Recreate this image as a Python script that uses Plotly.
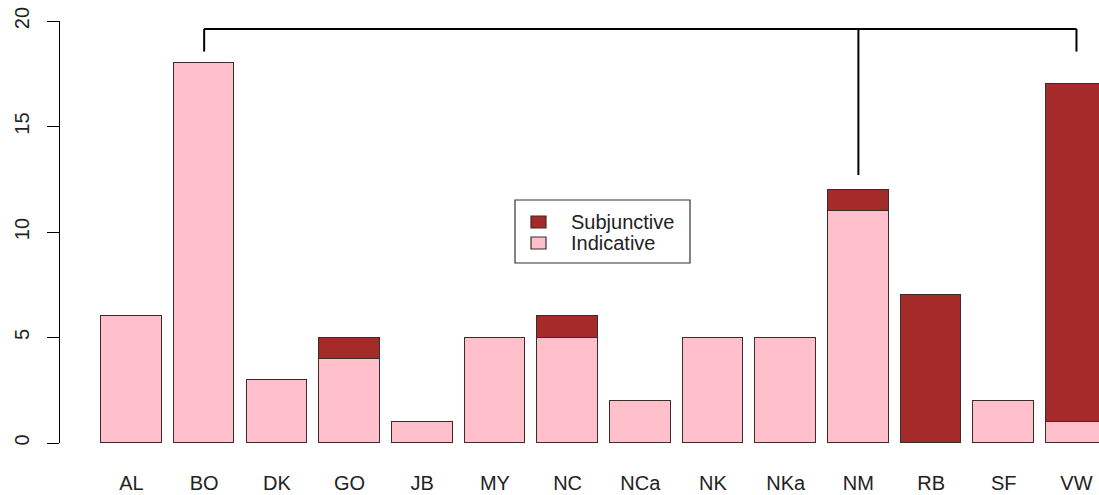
import plotly.graph_objects as go

# counts per speaker
speakers = ['AL', 'BO', 'DK', 'GO', 'JB', 'MY', 'NC', 'NCa', 'NK', 'NKa', 'NM', 'RB', 'SF', 'VW']
indicative = [6, 18, 3, 4, 1, 5, 5, 2, 5, 5, 11, 0, 2, 1]
subjunctive = [0, 0, 0, 1, 0, 0, 1, 0, 0, 0, 1, 7, 0, 16]
y_ticks = [0, 5, 10, 15, 20]

# bracket joining BO and VW, with a stem down to NM
bracket_ends = ['BO', 'VW']
bracket_stem = 'NM'
bracket_top = 19.62
bracket_foot = 18.55
stem_foot = 12.7

PINK = '#FFC0CB'
BROWN = '#A52A2A'
EDGE = '#3b2b2b'
FONT = 'Liberation Sans, Arial, sans-serif'

xpos = list(range(len(speakers)))
bar_w = 1 / 1.2

fig = go.Figure()
fig.add_trace(go.Bar(x=xpos, y=indicative, name='Indicative', width=bar_w,
                     marker=dict(color=PINK, line=dict(color=EDGE, width=1.3)),
                     showlegend=False))
fig.add_trace(go.Bar(x=xpos, y=subjunctive, name='Subjunctive', width=bar_w,
                     marker=dict(color=BROWN, line=dict(color=EDGE, width=1.3)),
                     showlegend=False))

# bracket lines
xa = speakers.index(bracket_ends[0])
xb = speakers.index(bracket_ends[1])
xs = speakers.index(bracket_stem)
line = dict(color='black', width=2)
fig.add_shape(type='line', x0=xa, x1=xb, y0=bracket_top, y1=bracket_top, line=line)
fig.add_shape(type='line', x0=xa, x1=xa, y0=bracket_top, y1=bracket_foot, line=line)
fig.add_shape(type='line', x0=xb, x1=xb, y0=bracket_top, y1=bracket_foot, line=line)
fig.add_shape(type='line', x0=xs, x1=xs, y0=bracket_top, y1=stem_foot, line=line)

# hand-made legend box (R style)
W, H = 1099, 495
ml, mr, mt, mb = 60, 0, 21, 52
pw, ph = W - ml - mr, H - mt - mb


def px(x):
    return (x - ml) / pw


def py(y):
    return (H - mb - y) / ph


fig.add_shape(type='rect', xref='paper', yref='paper',
              x0=px(515), x1=px(690), y0=py(200), y1=py(263),
              line=dict(color='#333333', width=1.2), fillcolor='white')
for name, col, yc in [('Subjunctive', BROWN, 222), ('Indicative', PINK, 243)]:
    fig.add_shape(type='rect', xref='paper', yref='paper',
                  x0=px(531), x1=px(546), y0=py(yc - 6), y1=py(yc + 6),
                  line=dict(color=EDGE, width=1.2), fillcolor=col)
    fig.add_annotation(xref='paper', yref='paper', x=px(569), y=py(yc),
                       text=name, showarrow=False, xanchor='left', yanchor='middle',
                       font=dict(size=20, color='#222222', family=FONT))

fig.update_layout(
    width=W, height=H,
    margin=dict(l=ml, r=mr, t=mt, b=mb),
    plot_bgcolor='white', paper_bgcolor='white',
    barmode='stack', bargap=0,
    font=dict(family=FONT, size=20, color='#222222'),
    xaxis=dict(range=[-0.983, 13.31], tickmode='array', tickvals=xpos, ticktext=speakers,
               showgrid=False, zeroline=False, showline=False,
               ticks='outside', ticklen=22, tickcolor='rgba(0,0,0,0)'),
    yaxis=dict(range=[0, 20], tickvals=y_ticks, showgrid=False, zeroline=False,
               showline=True, linecolor='black', linewidth=1.2,
               ticks='outside', ticklen=12, tickcolor='black', tickwidth=1.2,
               tickangle=-90, ticklabelstandoff=10),
)

fig.write_html('out.html', config={'displayModeBar': False},
               post_script="document.body.style.margin='0px';")
